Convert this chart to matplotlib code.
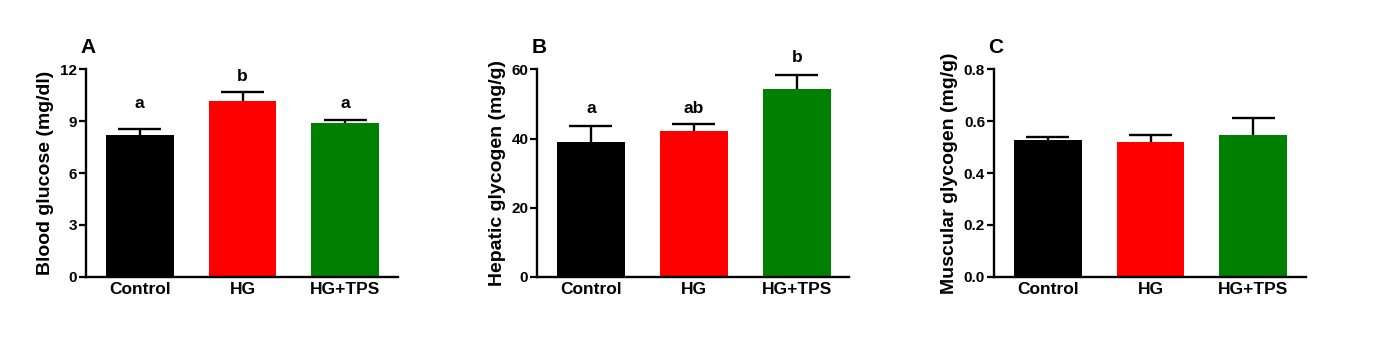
import matplotlib.pyplot as plt

plt.rcParams['font.family'] = ['Liberation Sans', 'DejaVu Sans']
plt.rcParams['font.weight'] = 'bold'

groups = ['Control', 'HG', 'HG+TPS']
colors = ['#000000', '#ff0000', '#008000']

glucose = [8.18, 10.17, 8.91]
glucose_err = [0.37, 0.53, 0.16]
glucose_sig = ['a', 'b', 'a']
glucose_sig_y = [10.0, 11.57, 10.0]

hepatic = [39.0, 42.3, 54.4]
hepatic_err = [4.7, 1.8, 3.95]
hepatic_sig = ['a', 'ab', 'b']
hepatic_sig_y = [48.7, 48.7, 63.4]

muscular = [0.527, 0.519, 0.545]
muscular_err = [0.013, 0.029, 0.066]

panels = [
    ('A', 'Blood glucose (mg/dl)', glucose, glucose_err, glucose_sig, glucose_sig_y, 12, [0, 3, 6, 9, 12], '{:g}'),
    ('B', 'Hepatic glycogen (mg/g)', hepatic, hepatic_err, hepatic_sig, hepatic_sig_y, 60, [0, 20, 40, 60], '{:g}'),
    ('C', 'Muscular glycogen (mg/g)', muscular, muscular_err, None, None, 0.8, [0, 0.2, 0.4, 0.6, 0.8], '{:.1f}'),
]

fig = plt.figure(figsize=(13.77, 3.37), dpi=100)
lefts = [0.0625, 0.3902, 0.7219]
width = 0.2265

for left, (letter, ylabel, vals, errs, sig, sig_y, ymax, ticks, fmt) in zip(lefts, panels):
    ax = fig.add_axes([left, 0.179, width, 0.615])
    x = list(range(len(groups)))
    ax.bar(x, vals, width=0.66, color=colors, zorder=2)
    # upper error bars only
    tops = [v + e for v, e in zip(vals, errs)]
    ax.vlines(x, vals, tops, color='black', lw=1.7, zorder=1)
    ax.hlines(tops, [xi - 0.21 for xi in x], [xi + 0.21 for xi in x], color='black', lw=1.7, zorder=1)
    ax.set_xlim(-0.52, 2.51)
    ax.set_ylim(0, ymax)
    ax.set_yticks(ticks)
    ax.set_yticklabels([fmt.format(t) for t in ticks])
    ax.set_xticks(x)
    ax.set_xticklabels(groups)
    ax.tick_params(axis='x', length=0, labelsize=12.5, pad=4)
    ax.tick_params(axis='y', length=5, width=1.6, labelsize=11, pad=1.5)
    for s in ['top', 'right']:
        ax.spines[s].set_visible(False)
    for s in ['left', 'bottom']:
        ax.spines[s].set_linewidth(1.7)
    ax.set_ylabel(ylabel, fontsize=14, fontweight='bold', labelpad=4)
    if sig:
        for xi, s, sy in zip(x, sig, sig_y):
            ax.text(xi, sy, s, ha='center', va='center', fontsize=12.5,
                    fontweight='bold', clip_on=False)
    ax.text(-0.018, 1.108, letter, transform=ax.transAxes, fontsize=15,
            fontweight='bold', ha='left', va='center')

fig.savefig('out.png', dpi=100)
